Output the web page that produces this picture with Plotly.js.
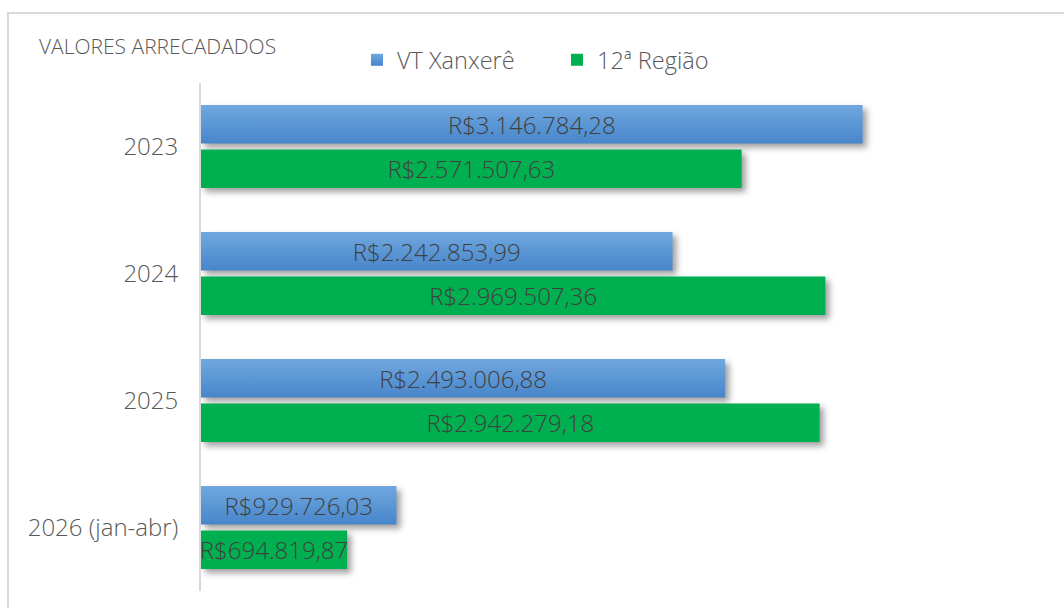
<!DOCTYPE html>
<html>
<head>
<meta charset="utf-8">
<script src="https://cdn.plot.ly/plotly-3.0.1.min.js"></script>
<style>
  html, body { margin: 0; padding: 0; background: #ffffff; overflow: hidden; }
  #frame { position: absolute; left: 7px; top: 12px; width: 1200px; height: 700px;
           border-left: 2px solid #d9d9d9; border-top: 2px solid #d9d9d9; box-sizing: border-box; }
  #chart { position: absolute; left: 0; top: 0; width: 1064px; height: 608px; }
  .js-plotly-plot .plotly .barlayer .point path {
    filter: drop-shadow(4px 4px 3px rgba(0,0,0,0.38));
  }
  .js-plotly-plot .plotly .barlayer .trace:nth-child(1) .point path {
    fill: url(#gradBlue) !important;
  }
  .js-plotly-plot .plotly .legend .traces:nth-child(1) .legendpoints path {
    fill: url(#gradBlue) !important;
  }
</style>
</head>
<body>
<svg width="0" height="0" style="position:absolute">
  <defs>
    <linearGradient id="gradBlue" x1="0" y1="0" x2="0" y2="1">
      <stop offset="0" stop-color="#70a7df"/>
      <stop offset="1" stop-color="#4786cb"/>
    </linearGradient>
  </defs>
</svg>
<div id="frame"></div>
<div id="chart"></div>
<script>
const categories = ['2023', '2024', '2025', '2026 (jan-abr)'];
const seriesNames = ['VT Xanxerê', '12ª Região'];
const vtXanxere = [3146784.28, 2242853.99, 2493006.88, 929726.03];
const regiao12 = [2571507.63, 2969507.36, 2942279.18, 694819.87];

function brl(v) {
  const parts = v.toFixed(2).split('.');
  const intPart = parts[0].replace(/\B(?=(\d{3})+(?!\d))/g, '.');
  return 'R$' + intPart + ',' + parts[1];
}

const font = '"Open Sans", "Noto Sans", sans-serif';
const labelFont = { family: font, size: 24, color: '#404040', weight: 300 };

const traces = [
  {
    type: 'bar', orientation: 'h', name: seriesNames[0],
    y: categories, x: vtXanxere,
    text: vtXanxere.map(brl), textposition: 'inside', insidetextanchor: 'middle',
    constraintext: 'none', textfont: labelFont, insidetextfont: labelFont,
    marker: { color: '#5893d6' }, hoverinfo: 'skip', cliponaxis: false
  },
  {
    type: 'bar', orientation: 'h', name: seriesNames[1],
    y: categories, x: regiao12,
    text: regiao12.map(brl), textposition: 'inside', insidetextanchor: 'middle',
    constraintext: 'none', textfont: labelFont, insidetextfont: labelFont,
    marker: { color: '#00b050' }, hoverinfo: 'skip', cliponaxis: false
  }
];

const layout = {
  width: 1064, height: 608,
  paper_bgcolor: 'rgba(0,0,0,0)', plot_bgcolor: 'rgba(0,0,0,0)',
  margin: { l: 201, r: 22, t: 83, b: 17, pad: 0 },
  barmode: 'group', bargap: 0.30, bargroupgap: 0.135,
  title: {
    text: 'VALORES ARRECADADOS',
    font: { family: font, size: 21, color: '#595959', weight: 300 },
    xref: 'container', yref: 'container', x: 39 / 1064, xanchor: 'left',
    y: 1 - 47 / 608, yanchor: 'middle'
  },
  showlegend: true,
  legend: {
    orientation: 'h', xanchor: 'left', yanchor: 'middle',
    x: (357 - 201) / 841, y: 1 + (83 - 60) / 508,
    entrywidth: 155, entrywidthmode: 'pixels',
    font: { family: font, size: 23.5, color: '#595959', weight: 300 },
    bgcolor: 'rgba(0,0,0,0)', traceorder: 'normal', itemclick: false
  },
  xaxis: {
    range: [0, 4000000], visible: false, showgrid: false, zeroline: false, fixedrange: true
  },
  yaxis: {
    type: 'category', autorange: 'reversed',
    showline: true, linecolor: '#d9d9d9', linewidth: 2,
    showgrid: false, zeroline: false, ticks: '', ticklabelstandoff: 16,
    tickfont: { family: font, size: 24, color: '#595959', weight: 300 }, fixedrange: true
  }
};

Plotly.newPlot('chart', traces, layout, { displayModeBar: false, staticPlot: true });
</script>
</body>
</html>
